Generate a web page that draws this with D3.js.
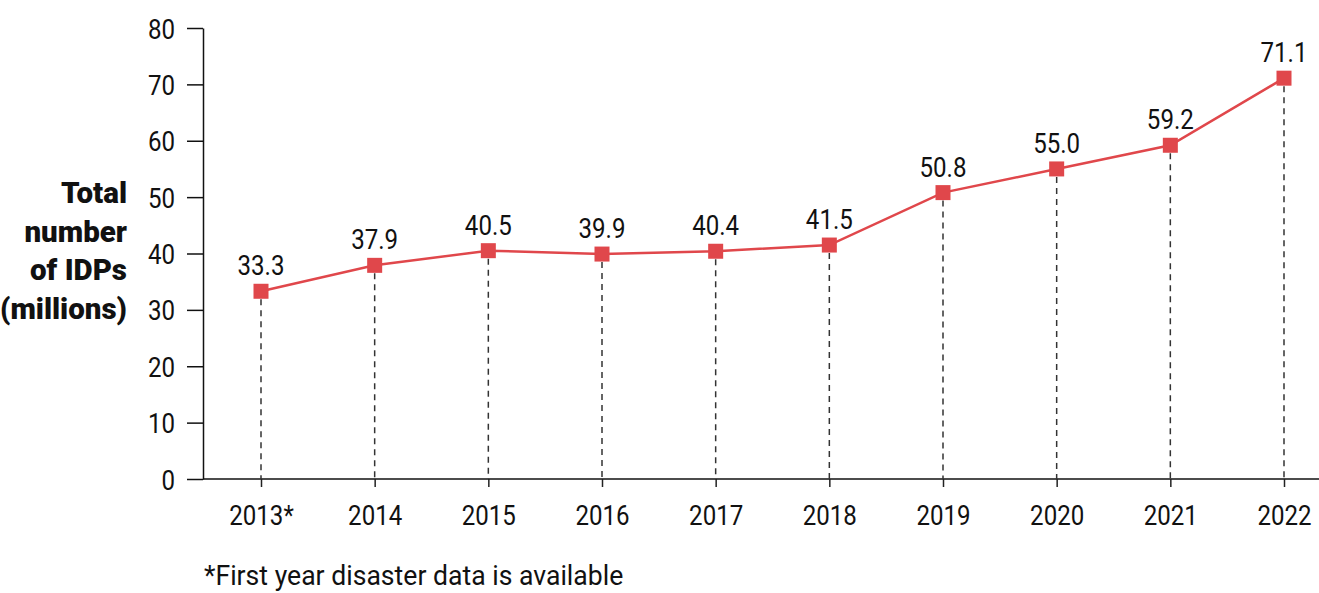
<!DOCTYPE html>
<html>
<head>
<meta charset="utf-8">
<script src="https://cdn.jsdelivr.net/npm/d3@7"></script>
<style>
  body { margin: 0; background: #fff; }
  text { font-family: "Roboto", "Liberation Sans", sans-serif; fill: #111; }
</style>
</head>
<body>
<div id="chart"></div>
<script>
// data
const years = ["2013*", "2014", "2015", "2016", "2017", "2018", "2019", "2020", "2021", "2022"];
const idps = [33.3, 37.9, 40.5, 39.9, 40.4, 41.5, 50.8, 55.0, 59.2, 71.1];
const yTicks = [0, 10, 20, 30, 40, 50, 60, 70, 80];
const yTitle = ["Total", "number", "of IDPs", "(millions)"];
const footnote = "*First year disaster data is available";

const width = 1319, height = 593;
const red = "#e0474b";
const sx = 0.86; // squeeze Roboto to look like the condensed face

const svg = d3.select("#chart")
  .append("svg")
  .attr("width", width)
  .attr("height", height)
  .attr("viewBox", `0 0 ${width} ${height}`);

const x = d3.scalePoint().domain(years).range([261, 1284]);
const y = d3.scaleLinear().domain([0, 80]).range([479, 28]);

// y axis
const yAxis = svg.append("g")
  .attr("transform", "translate(203,0)")
  .call(d3.axisLeft(y).tickValues(yTicks).tickSize(16).tickPadding(12).tickSizeOuter(0));
yAxis.select(".domain").attr("stroke", "#111").attr("stroke-width", 1.5);
yAxis.selectAll(".tick line").attr("stroke", "#111").attr("stroke-width", 1.5);
yAxis.selectAll(".tick text")
  .style("font-family", '"Roboto", sans-serif')
  .style("font-size", "28px")
  .attr("fill", "#111")
  .attr("x", -28 / sx)
  .attr("dy", "0.36em")
  .attr("transform", `scale(${sx},1)`);

// x axis baseline across whole plot
svg.append("line")
  .attr("x1", 203).attr("x2", width)
  .attr("y1", y(0)).attr("y2", y(0))
  .attr("stroke", "#111").attr("stroke-width", 1.5);

const xAxis = svg.append("g")
  .attr("transform", `translate(0,${y(0)})`)
  .call(d3.axisBottom(x).tickSize(8).tickPadding(18).tickSizeOuter(0));
xAxis.select(".domain").remove();
xAxis.selectAll(".tick line").attr("stroke", "#222").attr("stroke-width", 1.5);
xAxis.selectAll(".tick text")
  .style("font-family", '"Roboto", sans-serif')
  .style("font-size", "28px")
  .attr("fill", "#111")
  .attr("transform", `scale(${sx},1)`);

// dashed drop lines
svg.append("g").selectAll("line")
  .data(idps)
  .enter()
  .append("line")
  .attr("x1", (d, i) => x(years[i]))
  .attr("x2", (d, i) => x(years[i]))
  .attr("y1", d => y(d) + 8)
  .attr("y2", y(0))
  .attr("stroke", "#333")
  .attr("stroke-width", 1.5)
  .attr("stroke-dasharray", "6,5");

// line
const line = d3.line()
  .x((d, i) => x(years[i]))
  .y(d => y(d));

svg.append("path")
  .datum(idps)
  .attr("d", line)
  .attr("fill", "none")
  .attr("stroke", red)
  .attr("stroke-width", 2.5);

// markers
const s = 15;
svg.append("g").selectAll("rect")
  .data(idps)
  .enter()
  .append("rect")
  .attr("x", (d, i) => x(years[i]) - s / 2)
  .attr("y", d => y(d) - s / 2)
  .attr("width", s)
  .attr("height", s)
  .attr("fill", red);

// value labels
svg.append("g").selectAll("text")
  .data(idps)
  .enter()
  .append("text")
  .attr("transform", (d, i) => `translate(${x(years[i])},${y(d) - 16}) scale(${sx},1)`)
  .attr("text-anchor", "middle")
  .style("font-size", "28px")
  .text(d => d.toFixed(1));

// y title
svg.append("text")
  .attr("text-anchor", "end")
  .style("font-family", '"Roboto", "Liberation Sans", sans-serif')
  .style("font-weight", 900)
  .style("font-size", "29.5px")
  .selectAll("tspan")
  .data(yTitle)
  .enter()
  .append("tspan")
  .attr("x", 127)
  .attr("y", (d, i) => 203 + i * 38.5)
  .text(d => d);

// footnote
svg.append("text")
  .attr("transform", `translate(204,585) scale(0.95,1)`)
  .style("font-size", "28px")
  .text(footnote);
</script>
</body>
</html>
